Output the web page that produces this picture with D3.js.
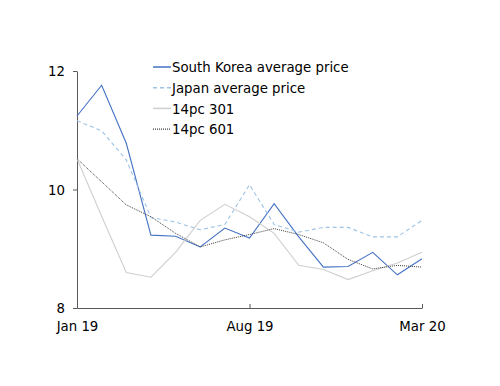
<!DOCTYPE html>
<html>
<head>
<meta charset="utf-8">
<script src="https://cdn.jsdelivr.net/npm/d3@7"></script>
<style>
  body { margin: 0; background: #fff; }
  svg text { font-family: "DejaVu Sans Condensed", "DejaVu Sans", sans-serif; font-size: 14.8px; fill: #000; }
  .axis path, .axis line { stroke: #595959; }
</style>
</head>
<body>
<script>
// dimensions
var w = 500,
    h = 386;

var margin = { top: 71, right: 78, bottom: 78, left: 77 };
var innerW = w - margin.left - margin.right,
    innerH = h - margin.top - margin.bottom;

// data, monthly Jan 19 .. Mar 20
var months = ['Jan 19','Feb 19','Mar 19','Apr 19','May 19','Jun 19','Jul 19','Aug 19',
              'Sep 19','Oct 19','Nov 19','Dec 19','Jan 20','Feb 20','Mar 20'];
var southKorea = [11.24, 11.76, 10.78, 9.23, 9.21, 9.03, 9.35, 9.18, 9.76, 9.20, 8.69, 8.70, 8.94, 8.56, 8.83];
var japan      = [11.16, 10.99, 10.50, 9.53, 9.45, 9.32, 9.41, 10.08, 9.41, 9.28, 9.36, 9.36, 9.20, 9.20, 9.48];
var pc301      = [10.52, 9.55, 8.60, 8.52, 8.94, 9.48, 9.75, 9.54, 9.26, 8.72, 8.65, 8.48, 8.63, 8.76, 8.94];
var pc601      = [10.52, 10.13, 9.74, 9.54, 9.26, 9.03, 9.15, 9.24, 9.34, 9.24, 9.10, 8.82, 8.66, 8.72, 8.69];
var yTicks = [8, 10, 12];
var xTicks = [0, 7, 14];

var series = [
  { name: 'South Korea average price', values: southKorea, color: '#4472C4', width: 1.1, dash: null },
  { name: 'Japan average price', values: japan, color: '#9DC3E6', width: 1.1, dash: '4,3' },
  { name: '14pc 301', values: pc301, color: '#CFCFCF', width: 1.1, dash: null },
  { name: '14pc 601', values: pc601, color: '#404040', width: 1, dash: '1,1' }
];

var svg = d3.select('body').append('svg')
  .attr('width', w)
  .attr('height', h)
  .append('g')
    .attr('transform', translation(margin.left, margin.top));

// scales
var xScale = d3.scaleLinear()
  .domain([0, months.length - 1])
  .range([0, innerW]);

var yScale = d3.scaleLinear()
  .domain([8, 12])
  .range([innerH, 0]);

// axes
var xAxis = d3.axisBottom(xScale)
  .tickValues(xTicks)
  .tickSize(-4)
  .tickSizeOuter(0)
  .tickPadding(12)
  .tickFormat(function(i) { return months[i]; });

var yAxis = d3.axisLeft(yScale)
  .tickValues(yTicks)
  .tickSize(4)
  .tickSizeOuter(0)
  .tickPadding(8)
  .tickFormat(d3.format('d'));

svg.append('g')
  .attr('class', 'axis y')
  .call(yAxis);

svg.append('g')
  .attr('class', 'axis x')
  .attr('transform', translation(0, innerH))
  .call(xAxis);

svg.selectAll('.axis .domain').attr('stroke', '#595959');
svg.selectAll('.axis text').attr('fill', '#000');

// lines
var line = d3.line()
  .x(function(d, i) { return xScale(i); })
  .y(function(d) { return yScale(d); });

svg.selectAll('.series')
  .data(series)
  .enter().append('path')
    .attr('class', 'series')
    .attr('fill', 'none')
    .attr('stroke', function(d) { return d.color; })
    .attr('stroke-width', function(d) { return d.width; })
    .attr('stroke-dasharray', function(d) { return d.dash; })
    .attr('d', function(d) { return line(d.values); });

// legend
var legend = svg.append('g')
  .attr('transform', translation(153 - margin.left, 67 - margin.top));

var item = legend.selectAll('.item')
  .data(series)
  .enter().append('g')
    .attr('class', 'item')
    .attr('transform', function(d, i) { return translation(0, i * 20.7); });

item.append('line')
  .attr('x1', 0)
  .attr('x2', 18)
  .attr('stroke', function(d) { return d.color; })
  .attr('stroke-width', function(d) { return d.width + 0.4; })
  .attr('stroke-dasharray', function(d) { return d.dash; });

item.append('text')
  .attr('x', 19)
  .attr('dy', '0.35em')
  .text(function(d) { return d.name; });

function translation(x, y) {
  return 'translate(' + x + ',' + y + ')';
}
</script>
</body>
</html>
